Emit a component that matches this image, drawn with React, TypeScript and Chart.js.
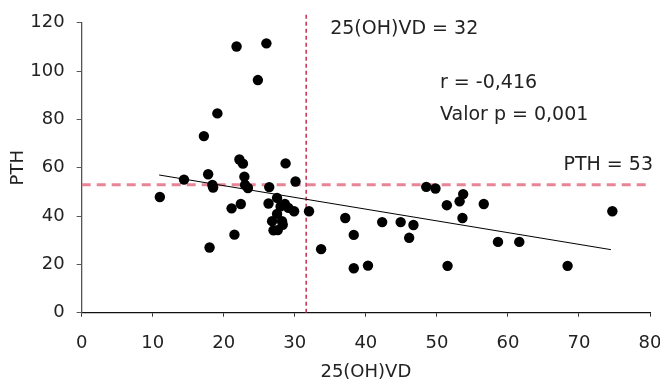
import { useEffect, useRef } from "react";
import { Chart, registerables } from "chart.js";

Chart.register(...registerables);

// Scatter data: 25(OH)VD (x) vs PTH (y)
const vitD = [
  21.8, 26.0, 24.8, 19.1, 17.2, 22.2, 22.7, 28.7,
  14.4, 17.8, 18.4, 18.5, 22.9, 23.0, 23.4, 26.4, 30.1, 11.0,
  21.1, 22.4, 26.3, 27.5, 28.6, 29.1, 29.9, 28.0, 32.0, 27.5,
  26.8, 28.2, 28.3, 27.0, 27.6, 21.5, 18.0, 33.7, 37.1, 38.3,
  38.3, 40.3, 42.3, 44.9, 46.7, 46.1, 48.5, 49.8, 51.4, 53.2,
  53.7, 53.6, 51.5, 56.6, 58.6, 61.6, 68.4, 74.7,
];
const pth = [
  110.2, 111.5, 96.3, 82.5, 73.1, 63.4, 61.7, 61.8,
  55.1, 57.3, 52.9, 51.8, 56.3, 52.9, 51.6, 52.0, 54.3, 47.9,
  43.2, 45.0, 45.2, 47.5, 45.0, 43.4, 42.0, 44.0, 42.0, 40.9,
  37.9, 37.9, 36.4, 34.1, 34.2, 32.3, 27.0, 26.3, 39.2, 32.2,
  18.4, 19.5, 37.5, 37.5, 36.3, 31.0, 52.1, 51.4, 44.5, 46.1,
  49.1, 39.2, 19.4, 45.0, 29.3, 29.3, 19.4, 42.0,
];

// Trend line end points
const trendX = [10.9, 74.5];
const trendY = [57.0, 26.1];

// Reference (cut-off) lines
const vitDCut = [31.6, 31.6];
const vitDCutY = [0, 123.5];
const pthCutX = [0, 80];
const pthCut = [53, 53];

// Axis ranges / ticks
const xTicks = [0, 10, 20, 30, 40, 50, 60, 70, 80];
const yTicks = [0, 20, 40, 60, 80, 100, 120];

// Annotation texts
const labelVitD = "25(OH)VD = 32";
const labelR = "r = -0,416";
const labelP = "Valor p = 0,001";
const labelPth = "PTH = 53";
const xTitle = "25(OH)VD";
const yTitle = "PTH";

const FONT = "'DejaVu Sans', sans-serif";

export default function App() {
  const ref = useRef<HTMLCanvasElement | null>(null);

  useEffect(() => {
    const canvas = ref.current;
    if (!canvas) return;

    const textPlugin = {
      id: "annotTexts",
      afterDatasetsDraw(chart: any) {
        const { ctx, scales, chartArea } = chart;
        const xs = scales.x;
        const ys = scales.y;
        ctx.save();
        ctx.fillStyle = "#222";
        ctx.font = `19px ${FONT}`;
        ctx.textBaseline = "middle";
        ctx.textAlign = "left";
        const vx = xs.getPixelForValue(vitDCut[0]);
        ctx.fillText(labelVitD, vx + 24, chartArea.top + 6);
        ctx.fillText(labelR, 440, 83);
        ctx.fillText(labelP, 440, 115);
        ctx.textAlign = "right";
        ctx.fillText(labelPth, chartArea.right + 3, ys.getPixelForValue(pthCut[0]) - 20);
        ctx.restore();
      },
    };

    const chart = new Chart(canvas, {
      type: "scatter",
      data: {
        datasets: [
          {
            label: "points",
            data: vitD.map((x, i) => ({ x, y: pth[i] })),
            backgroundColor: "#000",
            borderColor: "#000",
            pointRadius: 5.2,
            pointBorderWidth: 0,
            order: 0,
          },
          {
            type: "line",
            label: "trend",
            data: trendX.map((x, i) => ({ x, y: trendY[i] })),
            borderColor: "#000",
            borderWidth: 1,
            pointRadius: 0,
            fill: false,
            order: 1,
          },
          {
            type: "line",
            label: "pth cut",
            data: pthCutX.map((x, i) => ({ x, y: pthCut[i] })),
            borderColor: "rgba(228,120,140,0.9)",
            borderWidth: 3,
            borderDash: [9, 6],
            pointRadius: 0,
            fill: false,
            order: 2,
          },
          {
            type: "line",
            label: "vitd cut",
            data: vitDCut.map((x, i) => ({ x, y: vitDCutY[i] })),
            borderColor: "#c8304f",
            borderWidth: 1.5,
            borderDash: [4, 3],
            pointRadius: 0,
            fill: false,
            clip: false as any,
            order: 3,
          },
        ],
      },
      options: {
        responsive: false,
        animation: false,
        devicePixelRatio: 1,
        layout: { padding: { top: 19, right: 0, bottom: 5, left: 8 } },
        plugins: {
          legend: { display: false },
          tooltip: { enabled: false },
        },
        scales: {
          x: {
            type: "linear",
            min: 0,
            max: 80,
            afterBuildTicks: (s: any) => {
              s.ticks = xTicks.map((v) => ({ value: v }));
            },
            afterFit: (s: any) => {
              s.height = 388 - 312.7 - 5;
              s.paddingLeft = 0;
              s.paddingRight = 10;
            },
            grid: { drawOnChartArea: false, drawTicks: true, tickLength: 4, color: "#333" },
            border: { display: true, color: "#111", width: 1.3 },
            ticks: { color: "#222", font: { family: FONT, size: 18 }, padding: 16, maxRotation: 0 },
            title: {
              display: true,
              text: xTitle,
              color: "#222",
              font: { family: FONT, size: 18 },
              padding: { top: 0, bottom: 0 },
            },
          },
          y: {
            type: "linear",
            min: 0,
            max: 120,
            afterBuildTicks: (s: any) => {
              s.ticks = yTicks.map((v) => ({ value: v }));
            },
            afterFit: (s: any) => {
              s.width = 81.7 - 8;
            },
            grid: { drawOnChartArea: false, drawTicks: true, tickLength: 5, color: "#555" },
            border: { display: true, color: "#555", width: 1.3 },
            ticks: { color: "#222", font: { family: FONT, size: 18 }, padding: 12 },
            title: {
              display: true,
              text: yTitle,
              color: "#222",
              font: { family: FONT, size: 18 },
              padding: { top: 0, bottom: 0 },
            },
          },
        },
      },
      plugins: [textPlugin],
    } as any);

    return () => chart.destroy();
  }, []);

  return (
    <div style={{ position: "fixed", left: 0, top: 0, width: 660, height: 388, background: "#fff" }}>
      <canvas ref={ref} width={660} height={388} style={{ width: 660, height: 388, display: "block" }} />
    </div>
  );
}
